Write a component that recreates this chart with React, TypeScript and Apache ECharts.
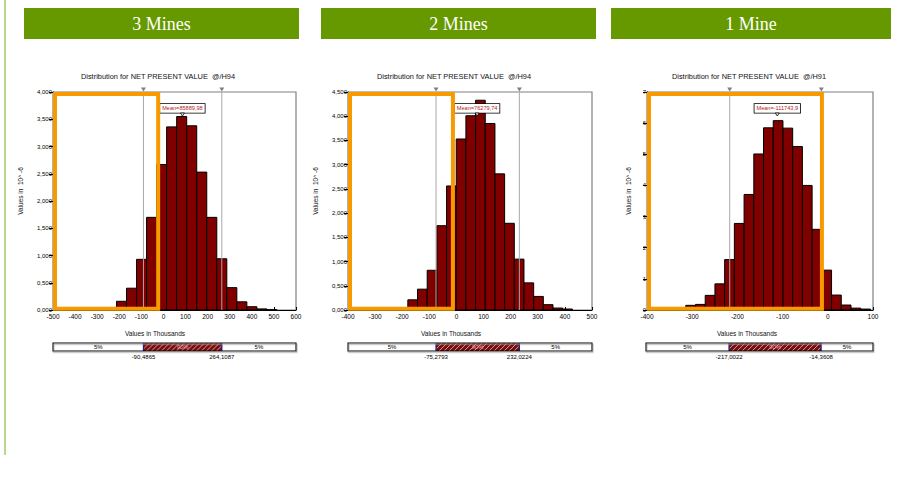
import React, { useEffect, useRef } from 'react';
import * as echarts from 'echarts';

// ---------- data ----------
const headerTitles = ['3 Mines', '2 Mines', '1 Mine'];
const chartTitles = [
  'Distribution for NET PRESENT VALUE  @/H94',
  'Distribution for NET PRESENT VALUE  @/H94',
  'Distribution for NET PRESENT VALUE  @/H91',
];
const yAxisName = 'Values in  10^ -6';
const xAxisName = 'Values in Thousands';

const xMins = [-500, -400, -400];
const xMaxs = [600, 500, 100];
const xIntervals = [100, 100, 100];
const yMaxs = [4, 4.5, 7];
const yIntervals = [0.5, 0.5, 1];
const yDecimals = [3, 3, 0];

// histogram bins (values in thousands) and densities (x 10^-6)
const binEdges3Mines = [-258, -212.6, -167.2, -121.8, -76.4, -31, 14.4, 59.8, 105.2, 150.6, 196, 241.4, 286.8, 332.2, 377.6, 423, 468.4, 513.8];
const density3Mines = [0.02, 0.16, 0.4, 0.93, 1.7, 2.67, 3.36, 3.55, 3.38, 2.53, 1.7, 0.94, 0.41, 0.15, 0.06, 0.02, 0.006];

const binEdges2Mines = [-215, -179.3, -143.6, -107.9, -72.2, -36.5, -0.8, 34.9, 70.6, 106.3, 142, 177.7, 213.4, 249.1, 284.8, 320.5, 356.2, 391.9, 427.6];
const density2Mines = [0.05, 0.21, 0.43, 0.82, 1.74, 2.56, 3.53, 4.01, 4.33, 3.85, 2.81, 1.79, 1.05, 0.56, 0.28, 0.11, 0.04, 0.02];

const binEdges1Mine = [-357.2, -335.7, -314.2, -292.7, -271.2, -249.7, -228.2, -206.7, -185.2, -163.7, -142.2, -120.7, -99.2, -77.7, -56.2, -34.7, -13.2, 8.3, 29.8, 51.3, 72.8, 94.3];
const density1Mine = [0.02, 0.07, 0.15, 0.18, 0.47, 0.84, 1.62, 2.78, 3.71, 5.01, 5.85, 6.08, 5.84, 5.25, 4.0, 2.59, 1.28, 0.48, 0.16, 0.06, 0.03];

const binEdges = [binEdges3Mines, binEdges2Mines, binEdges1Mine];
const densities = [density3Mines, density2Mines, density1Mine];

const p5Values = [-90.4865, -75.2793, -217.0022];
const p95Values = [264.1087, 232.0224, -14.3608];
const meanValues = [85889.98, 76279.74, -111743.9];
const tailLabel = '5%';
const midLabel = '90%';
// right end (thousands) of the orange highlighted region
const highlightEnds = [-24, -13, -13];

// ---------- layout / style ----------
const FONT = '"Liberation Sans", Arial, sans-serif';
const histGrids = [
  { left: 53, top: 92, width: 243, height: 218 },
  { left: 348, top: 92, width: 244, height: 218 },
  { left: 647, top: 92, width: 226, height: 218 },
];
const barGrids = [
  { left: 53, top: 343, width: 243, height: 8 },
  { left: 348, top: 343, width: 244, height: 8 },
  { left: 646, top: 343, width: 227, height: 8 },
];
const headerBoxes = [
  { x: 24, w: 275 },
  { x: 321, w: 275 },
  { x: 611, w: 280 },
];
const titleCenters = [158, 454, 749];
const xNameCenters = [155, 451, 747];
const yNameX = [20.5, 315.5, 628];

const fmtComma = (v: number, d: number) => v.toFixed(d).replace('.', ',');

export default function App() {
  const ref = useRef<HTMLDivElement>(null);

  useEffect(() => {
    if (!ref.current) return;
    const chart = echarts.init(ref.current, undefined, { renderer: 'svg' });

    const grids: any[] = [];
    const xAxes: any[] = [];
    const yAxes: any[] = [];
    const series: any[] = [];

    for (let i = 0; i < 3; i++) {
      grids.push({ ...histGrids[i], show: true, borderColor: '#808080', borderWidth: 1.2, containLabel: false });
      xAxes.push({
        type: 'value', gridIndex: i, min: xMins[i], max: xMaxs[i], interval: xIntervals[i],
        axisLine: { show: true, onZero: false, lineStyle: { color: '#000', width: 1 } },
        axisTick: { show: true, inside: true, length: 3, lineStyle: { color: '#000' } },
        axisLabel: { fontSize: 6.5, color: '#000', margin: 3, fontFamily: FONT },
        splitLine: { show: false },
      });
      yAxes.push({
        type: 'value', gridIndex: i, min: 0, max: yMaxs[i], interval: yIntervals[i],
        axisLine: { show: true, onZero: false, lineStyle: { color: '#000', width: 1 } },
        axisTick: { show: true, inside: false, length: 4, lineStyle: { color: '#000' } },
        axisLabel: {
          fontSize: 6, color: '#000', margin: 1, fontFamily: FONT,
          formatter: (v: number) => fmtComma(v, yDecimals[i]),
        },
        splitLine: { show: false },
      });
    }
    for (let i = 0; i < 3; i++) {
      grids.push({ ...barGrids[i], show: false });
      xAxes.push({ type: 'value', gridIndex: 3 + i, min: xMins[i], max: xMaxs[i], show: false });
      yAxes.push({ type: 'value', gridIndex: 3 + i, min: 0, max: 1, show: false });
    }

    for (let i = 0; i < 3; i++) {
      const edges = binEdges[i];
      const vals = densities[i];
      const histData = vals.map((v, k) => [edges[k], edges[k + 1], v]);
      series.push({
        type: 'custom', xAxisIndex: i, yAxisIndex: i, z: 2,
        encode: { x: [0, 1], y: 2 },
        data: histData,
        renderItem: (_p: any, api: any) => {
          const a = api.coord([api.value(0), api.value(2)]);
          const b = api.coord([api.value(1), 0]);
          return {
            type: 'rect',
            shape: { x: a[0], y: a[1], width: b[0] - a[0], height: b[1] - a[1] },
            style: { fill: '#800000', stroke: '#000', lineWidth: 1 },
          };
        },
      });

      const xMin = xMins[i];
      const yMax = yMaxs[i];
      const p5 = p5Values[i];
      const p95 = p95Values[i];
      const mean = meanValues[i];
      const hEnd = highlightEnds[i];
      series.push({
        type: 'custom', xAxisIndex: i, yAxisIndex: i, z: 5, clip: false,
        encode: { x: 0, y: 1 },
        data: [[xMin, 0]],
        renderItem: (_p: any, api: any) => {
          const children: any[] = [];
          [p5, p95].forEach((p) => {
            const a = api.coord([p, 0]);
            const b = api.coord([p, yMax]);
            children.push({ type: 'line', shape: { x1: a[0], y1: a[1], x2: b[0], y2: b[1] }, style: { stroke: '#a8a8a8', lineWidth: 1 } });
            children.push({
              type: 'polygon',
              shape: { points: [[b[0] - 2.5, b[1] - 4.5], [b[0] + 2.5, b[1] - 4.5], [b[0], b[1] - 0.5]] },
              style: { fill: '#808080' },
            });
          });
          const m = api.coord([mean / 1000, yMax]);
          children.push({
            type: 'text', x: m[0], y: m[1] + 16.4,
            style: {
              text: 'Mean=' + fmtComma(mean, mean.toFixed(2).length > 9 ? 1 : 2),
              fill: '#b22222', font: `5.6px ${FONT}`,
              align: 'center', verticalAlign: 'middle', textAlign: 'center', textVerticalAlign: 'middle',
              backgroundColor: '#fff', borderColor: '#000', borderWidth: 0.8, padding: [1.6, 2, 1.2, 2],
            },
          });
          children.push({
            type: 'polygon',
            shape: { points: [[m[0] - 2, m[1] + 21], [m[0] + 2, m[1] + 21], [m[0], m[1] + 24]] },
            style: { fill: '#fff', stroke: '#000', lineWidth: 0.8 },
          });
          const o0 = api.coord([xMin, yMax]);
          const o1 = api.coord([hEnd, 0]);
          children.push({
            type: 'rect',
            shape: { x: o0[0] + 2, y: o0[1] + 2, width: o1[0] - o0[0] - 2, height: o1[1] - o0[1] - 3.3 },
            style: { fill: 'none', stroke: '#F79A00', lineWidth: 4 },
          });
          return { type: 'group', children };
        },
      });

      const barData = [
        [xMins[i], p5, 0],
        [p95, xMaxs[i], 0],
        [p5, p95, 1],
        [xMins[i], xMaxs[i], 2],
      ];
      series.push({
        type: 'custom', xAxisIndex: 3 + i, yAxisIndex: 3 + i, z: 3, clip: false,
        encode: { x: [0, 1], y: 2 },
        data: barData,
        renderItem: (_p: any, api: any) => {
          const s = api.value(0);
          const e = api.value(1);
          const kind = api.value(2);
          const a = api.coord([s, 1]);
          const b = api.coord([e, 0]);
          const x0 = a[0], y0 = a[1], x1 = b[0], y1 = b[1];
          const w = x1 - x0, h = y1 - y0;
          if (kind === 2) {
            return {
              type: 'rect', shape: { x: x0, y: y0, width: w, height: h },
              style: { fill: 'none', stroke: '#000', lineWidth: 1.2, shadowColor: '#9a9a9a', shadowOffsetY: 1.2, shadowOffsetX: 0.6, shadowBlur: 0 },
            };
          }
          if (kind === 0) {
            return {
              type: 'group',
              children: [
                { type: 'rect', shape: { x: x0, y: y0, width: w, height: h }, style: { fill: '#fff' } },
                {
                  type: 'text', x: (x0 + x1) / 2, y: (y0 + y1) / 2 + 0.3,
                  style: { text: tailLabel, fill: '#000', font: `6px ${FONT}`, align: 'center', verticalAlign: 'middle', textAlign: 'center', textVerticalAlign: 'middle' },
                },
              ],
            };
          }
          const children: any[] = [
            { type: 'rect', shape: { x: x0, y: y0, width: w, height: h }, style: { fill: '#7e0b0b' } },
          ];
          const step = 5;
          for (let xb = x0 - h + 1; xb < x1; xb += step) {
            let sx = xb, sy = y1;
            let ex = xb + h, ey = y0;
            if (sx < x0) { sy = y1 - (x0 - sx); sx = x0; }
            if (ex > x1) { ey = y1 - (x1 - xb); ex = x1; }
            children.push({ type: 'line', shape: { x1: sx, y1: sy, x2: ex, y2: ey }, style: { stroke: 'rgba(255,255,255,0.75)', lineWidth: 0.8 } });
          }
          children.push({
            type: 'text', x: (x0 + x1) / 2, y: (y0 + y1) / 2 + 0.3,
            style: { text: midLabel, fill: '#e9a9a9', font: `italic 6px ${FONT}`, align: 'center', verticalAlign: 'middle', textAlign: 'center', textVerticalAlign: 'middle' },
          });
          children.push({ type: 'line', shape: { x1: x0, y1: y0, x2: x0, y2: y1 }, style: { stroke: '#1c1c8c', lineWidth: 1.3 } });
          children.push({ type: 'line', shape: { x1: x1, y1: y0, x2: x1, y2: y1 }, style: { stroke: '#1c1c8c', lineWidth: 1.3 } });
          children.push({
            type: 'text', x: x0, y: y1 + 5.5,
            style: { text: fmtComma(s, 4), fill: '#000', font: `6px ${FONT}`, align: 'center', verticalAlign: 'middle', textAlign: 'center', textVerticalAlign: 'middle' },
          });
          children.push({
            type: 'text', x: x1, y: y1 + 5.5,
            style: { text: fmtComma(e, 4), fill: '#000', font: `6px ${FONT}`, align: 'center', verticalAlign: 'middle', textAlign: 'center', textVerticalAlign: 'middle' },
          });
          return { type: 'group', children };
        },
      });
    }

    const graphics: any[] = [
      { type: 'line', shape: { x1: 5, y1: 0, x2: 5, y2: 455 }, style: { stroke: '#b9d88e', lineWidth: 2 } },
    ];
    for (let i = 0; i < 3; i++) {
      const hb = headerBoxes[i];
      graphics.push({ type: 'rect', shape: { x: hb.x, y: 8, width: hb.w, height: 31 }, style: { fill: '#669900' } });
      graphics.push({
        type: 'text', x: hb.x + hb.w / 2, y: 24,
        style: { text: headerTitles[i], fill: '#fff', font: `18px "Liberation Serif", "Times New Roman", serif`, textAlign: 'center', textVerticalAlign: 'middle', align: 'center', verticalAlign: 'middle' },
      });
      graphics.push({
        type: 'text', x: titleCenters[i], y: 76,
        style: { text: chartTitles[i], fill: '#111', font: `7.4px ${FONT}`, textAlign: 'center', textVerticalAlign: 'middle', align: 'center', verticalAlign: 'middle' },
      });
      graphics.push({
        type: 'text', x: xNameCenters[i], y: 333.5,
        style: { text: xAxisName, fill: '#111', font: `6.5px ${FONT}`, textAlign: 'center', textVerticalAlign: 'middle', align: 'center', verticalAlign: 'middle' },
      });
      graphics.push({
        type: 'text', x: yNameX[i], y: 191, rotation: Math.PI / 2,
        style: { text: yAxisName, fill: '#111', font: `6.5px ${FONT}`, textAlign: 'center', textVerticalAlign: 'middle', align: 'center', verticalAlign: 'middle' },
      });
    }

    chart.setOption({
      animation: false,
      backgroundColor: '#fff',
      grid: grids,
      xAxis: xAxes,
      yAxis: yAxes,
      series,
      graphic: graphics,
    });

    return () => chart.dispose();
  }, []);

  return <div ref={ref} style={{ position: 'absolute', left: 0, top: 0, width: 908, height: 486 }} />;
}
